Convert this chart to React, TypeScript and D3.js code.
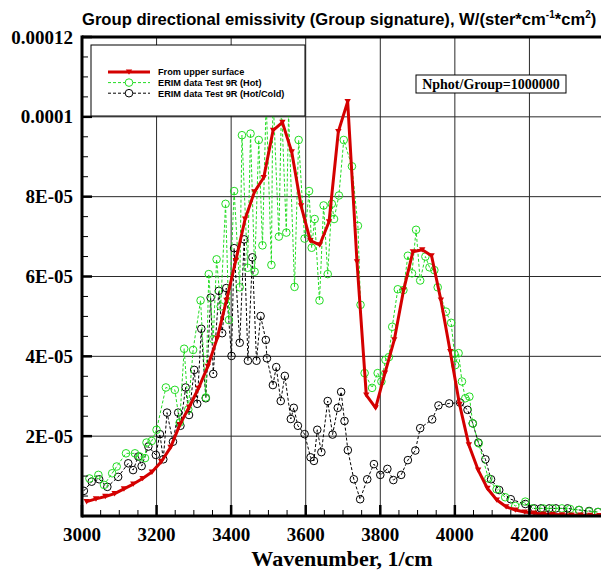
import React from "react";
import * as d3 from "d3";

// values in units of 1e-6 W/(ster*cm^-1*cm^2)
const upperWave = [
  3012.5, 3037.5, 3062.5, 3087.5, 3112.5, 3137.5, 3162.5, 3187.5, 3212.5, 3237.5,
  3262.5, 3287.5, 3312.5, 3337.5, 3362.5, 3387.5, 3412.5, 3437.5, 3462.5, 3487.5,
  3512.5, 3537.5, 3562.5, 3587.5, 3612.5, 3637.5, 3662.5, 3687.5, 3712.5, 3737.5,
  3762.5, 3787.5, 3812.5, 3837.5, 3862.5, 3887.5, 3912.5, 3937.5, 3962.5, 3987.5,
  4012.5, 4037.5, 4062.5, 4087.5, 4112.5, 4137.5, 4162.5, 4187.5, 4212.5, 4237.5,
  4262.5, 4287.5, 4312.5, 4337.5, 4362.5, 4387.5,
];
const upperVal = [
  3.6, 4.3, 4.9, 5.6, 6.8, 8.0, 9.4, 11.0, 13.6, 17.2,
  22.9, 27.3, 32.0, 37.5, 44.5, 54.0, 64.0, 74.4, 81.2, 84.8,
  96.6, 98.6, 91.2, 77.7, 69.0, 67.9, 73.7, 96.3, 103.8, 63.7,
  30.3, 27.1, 35.8, 44.1, 56.6, 66.2, 66.7, 65.2, 54.1, 41.2,
  28.0, 17.8, 11.5, 6.9, 4.0, 2.3, 1.5, 1.0, 0.7, 0.5,
  0.4, 0.3, 0.25, 0.2, 0.15, 0.1,
];

const hotWave = [
  3020, 3044, 3059, 3081, 3093, 3118, 3142, 3155, 3169, 3173,
  3187, 3200, 3225, 3249, 3262, 3274, 3285, 3298, 3318, 3332,
  3340, 3352, 3361, 3372, 3385, 3394, 3408, 3423, 3429, 3444,
  3452, 3463, 3474, 3484, 3494, 3508, 3512, 3528, 3535, 3548,
  3554, 3570, 3581, 3597, 3609, 3616, 3624, 3637, 3648, 3659,
  3670, 3676, 3689, 3702, 3724, 3740, 3747, 3758, 3778, 3793,
  3803, 3814, 3823, 3832, 3847, 3862, 3874, 3885, 3896, 3907,
  3921, 3932, 3945, 3954, 3976, 3990, 3999, 4001, 4010, 4019,
  4028, 4039, 4048, 4064, 4090, 4112, 4135, 4162, 4189, 4208,
  4237, 4262, 4287, 4309, 4333, 4360, 4384,
];
const hotVal = [
  9.4, 10.3, 7.8, 10.7, 12.4, 15.7, 15.7, 14.9, 14.5, 18.4,
  18.8, 21.6, 32.2, 31.6, 23.4, 41.9, 26.7, 41.6, 54.0, 29.7,
  60.6, 44.3, 64.3, 52.5, 78.2, 49.1, 81.4, 57.3, 95.4, 62.2,
  95.8, 61.2, 94.2, 67.8, 104.0, 62.9, 106.0, 70.0, 103.0, 71.0,
  101.0, 57.4, 94.2, 69.5, 81.4, 67.2, 74.4, 54.0, 77.8, 60.6,
  78.2, 74.4, 80.3, 94.2, 87.6, 72.7, 52.9, 35.8, 32.1, 35.8,
  33.7, 39.1, 39.8, 47.4, 56.8, 56.6, 65.2, 60.8, 71.7, 59.0,
  65.0, 62.3, 61.6, 57.3, 51.2, 48.4, 40.6, 37.8, 40.8, 33.7,
  29.5, 29.9, 23.2, 18.2, 9.4, 6.7, 4.7, 2.5, 3.6, 1.9,
  1.9, 1.9, 1.9, 1.75, 1.5, 1.1, 1.0,
];

const hotColdWave = [
  3005, 3026, 3046, 3068, 3097, 3124, 3137, 3151, 3160, 3178,
  3198, 3209, 3218, 3228, 3244, 3258, 3264, 3278, 3287, 3301,
  3309, 3320, 3332, 3345, 3352, 3367, 3376, 3387, 3401, 3408,
  3423, 3435, 3445, 3457, 3468, 3479, 3493, 3496, 3512, 3521,
  3533, 3544, 3560, 3568, 3579, 3597, 3613, 3622, 3631, 3642,
  3659, 3672, 3686, 3695, 3704, 3713, 3729, 3746, 3765, 3783,
  3800, 3819, 3835, 3856, 3874, 3894, 3907, 3939, 3956, 3985,
  4014, 4034, 4048, 4063, 4082, 4097, 4119, 4150, 4189, 4213,
  4231, 4253, 4271, 4302, 4333, 4360, 4384,
];
const hotColdVal = [
  6.3, 8.6, 9.2, 7.3, 9.8, 13.2, 11.5, 14.9, 12.5, 17.4,
  15.3, 20.5, 14.2, 25.9, 18.6, 25.9, 22.6, 32.2, 25.3, 36.6,
  28.1, 46.9, 29.5, 54.7, 35.6, 56.4, 45.8, 57.1, 40.1, 67.1,
  43.4, 69.3, 38.9, 64.8, 38.9, 50.1, 44.1, 39.5, 32.8, 37.3,
  28.8, 35.1, 24.3, 27.1, 22.6, 20.5, 14.7, 13.8, 21.6, 16.0,
  28.8, 20.4, 27.1, 31.1, 23.8, 16.5, 9.2, 4.2, 9.2, 13.0,
  10.3, 11.8, 9.0, 10.3, 14.0, 16.4, 22.0, 24.2, 27.7, 28.2,
  28.4, 26.6, 23.2, 18.4, 14.2, 9.2, 6.5, 4.2, 3.0, 1.9,
  1.9, 1.9, 1.9, 1.9, 1.5, 1.25, 1.0,
];

const xTicks = [3000, 3200, 3400, 3600, 3800, 4000, 4200, 4400];
const yTicks = [20, 40, 60, 80, 100, 120];
const yTickLabels = ["2E-05", "4E-05", "6E-05", "8E-05", "0.0001", "0.00012"];

const legendNames = [
  "From upper surface",
  "ERIM data Test 9R (Hot)",
  "ERIM data Test 9R (Hot/Cold)",
];

const RED = "#d40000";
const GREEN = "#22dc22";
const BLACK = "#000";

const left = 82, right = 604, top = 37, bottom = 516;

const x = d3.scaleLinear().domain([3000, 4400]).range([left, right]);
const y = d3.scaleLinear().domain([0, 120]).range([bottom, top]);

const serif = "'Liberation Serif', 'Times New Roman', serif";
const sans = "'Liberation Sans', Arial, sans-serif";

const tri = "M-3.2,-2.6L3.2,-2.6L0,2.8Z";

function pts(w: number[], v: number[]) {
  return w.map((d, i) => [d, v[i]] as [number, number]);
}

const lineGen = d3.line<[number, number]>().x(d => x(d[0])).y(d => y(d[1]));

export default function App() {
  const upper = pts(upperWave, upperVal);
  const hot = pts(hotWave, hotVal);
  const hotCold = pts(hotColdWave, hotColdVal);

  const xMinor = d3.range(3050, 4400, 50).filter(v => v % 200 !== 0);
  const yMinor = d3.range(5, 120, 5).filter(v => v % 20 !== 0);

  return (
    <svg width={601} height={570} style={{ position: "absolute", left: 0, top: 0, background: "#fff" }}>
      <defs>
        <clipPath id="plot">
          <rect x={left} y={top} width={right - left} height={bottom - top} />
        </clipPath>
      </defs>

      {/* title */}
      <text x={82} y={25} fontFamily={sans} fontWeight="bold" fontSize={16.6}>
        Group directional emissivity (Group signature), W/(ster*cm
        <tspan fontSize={10} dy={-7}>-1</tspan>
        <tspan dy={7}>*cm</tspan>
        <tspan fontSize={10} dy={-7}>2</tspan>
        <tspan dy={7}>)</tspan>
      </text>

      {/* grid */}
      <g stroke="#2a2a2a" strokeWidth={1}>
        {xTicks.slice(1).map(t => (
          <line key={"gx" + t} x1={x(t)} x2={x(t)} y1={top} y2={bottom} />
        ))}
        {yTicks.slice(0, -1).map(t => (
          <line key={"gy" + t} x1={left} x2={right} y1={y(t)} y2={y(t)} />
        ))}
      </g>

      {/* series */}
      <g clipPath="url(#plot)">
        <path d={lineGen(hotCold) ?? ""} fill="none" stroke={BLACK} strokeWidth={1} strokeDasharray="3,2" />
        {hotCold.map((d, i) => (
          <circle key={"k" + i} cx={x(d[0])} cy={y(d[1])} r={3.8} fill="none" stroke={BLACK} strokeWidth={1} />
        ))}
        <path d={lineGen(hot) ?? ""} fill="none" stroke={GREEN} strokeWidth={1} strokeDasharray="3,2" />
        {hot.map((d, i) => (
          <circle key={"g" + i} cx={x(d[0])} cy={y(d[1])} r={3.8} fill="none" stroke={GREEN} strokeWidth={1} />
        ))}
        <path d={lineGen(upper) ?? ""} fill="none" stroke={RED} strokeWidth={3} strokeLinejoin="round" />
        {upper.map((d, i) => (
          <path key={"r" + i} d={tri} transform={`translate(${x(d[0])},${y(d[1])})`} fill={RED} />
        ))}
      </g>

      {/* axes frame */}
      <g stroke="#000">
        <line x1={left} x2={right} y1={top} y2={top} strokeWidth={3} />
        <line x1={left} x2={right} y1={bottom} y2={bottom} strokeWidth={3} />
        <line x1={left} x2={left} y1={top - 1.5} y2={bottom + 1.5} strokeWidth={3} />
        {yTicks.map(t => (
          <line key={"yt" + t} x1={left} x2={left + 10} y1={y(t)} y2={y(t)} strokeWidth={2.5} />
        ))}
        {yMinor.map(t => (
          <line key={"ym" + t} x1={left} x2={left + 6} y1={y(t)} y2={y(t)} strokeWidth={1} />
        ))}
        {xTicks.map(t => (
          <line key={"xt" + t} x1={x(t)} x2={x(t)} y1={bottom} y2={bottom - 11} strokeWidth={2.5} />
        ))}
        {xMinor.map(t => (
          <line key={"xm" + t} x1={x(t)} x2={x(t)} y1={bottom} y2={bottom - 6} strokeWidth={1} />
        ))}
      </g>

      {/* tick labels */}
      <g fontFamily={serif} fontWeight="bold" fontSize={19}>
        {yTicks.map((t, i) => (
          <text key={"yl" + t} x={73} y={y(t) + 6.5} textAnchor="end">
            {yTickLabels[i]}
          </text>
        ))}
        {xTicks.slice(0, -1).map(t => (
          <text key={"xl" + t} x={x(t)} y={541} textAnchor="middle">
            {t}
          </text>
        ))}
      </g>

      <text x={342} y={566} textAnchor="middle" fontFamily={serif} fontWeight="bold" fontSize={22}>
        Wavenumber, 1/cm
      </text>

      {/* legend */}
      <g>
        <rect x={91} y={45} width={214} height={71} fill="#fff" stroke="#000" strokeWidth={1} />
        {legendNames.map((name, i) => {
          const ly = 72 + i * 10.6;
          const color = [RED, GREEN, BLACK][i];
          return (
            <g key={name}>
              {i === 0 ? (
                <>
                  <line x1={108} x2={150} y1={ly} y2={ly} stroke={RED} strokeWidth={3} />
                  <path d={tri} transform={`translate(129,${ly})`} fill={RED} />
                </>
              ) : (
                <>
                  <line x1={108} x2={150} y1={ly} y2={ly} stroke={color} strokeWidth={1} strokeDasharray="3,2" />
                  <circle cx={129} cy={ly} r={3.8} fill="#fff" stroke={color} strokeWidth={1} />
                </>
              )}
              <text x={158} y={ly + 3.4} fontFamily={sans} fontWeight="bold" fontSize={9.2}>
                {name}
              </text>
            </g>
          );
        })}
      </g>

      {/* annotation */}
      <rect x={416} y={75} width={150} height={18} fill="#fff" stroke="#000" strokeWidth={1} />
      <text x={491} y={89} textAnchor="middle" fontFamily={serif} fontWeight="bold" fontSize={14}>
        Nphot/Group=1000000
      </text>
    </svg>
  );
}
